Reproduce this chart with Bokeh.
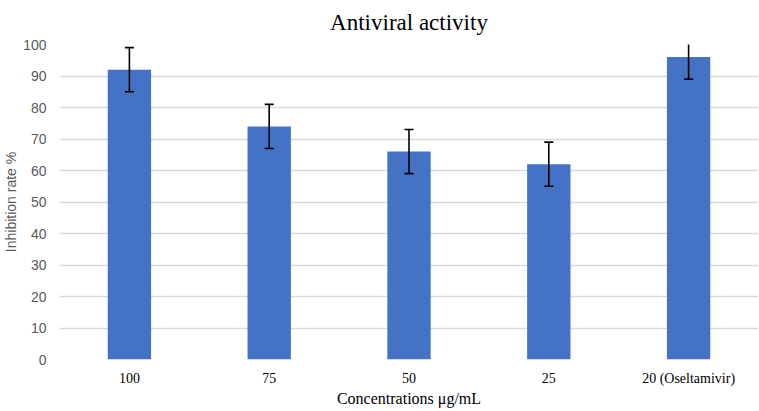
from bokeh.plotting import figure
from bokeh.models import ColumnDataSource, FactorRange, Range1d, Whisker, TeeHead, Title, SingleIntervalTicker
from bokeh.embed import file_html
from bokeh.resources import INLINE

categories = ["100", "75", "50", "25", "20 (Oseltamivir)"]
values = [92, 74, 66, 62, 96]
errors = [7, 7, 7, 7, 7]

src = ColumnDataSource(dict(
    cat=categories,
    val=values,
    lo=[v - e for v, e in zip(values, errors)],
    hi=[v + e for v, e in zip(values, errors)],
))

p = figure(width=759, height=411, x_range=FactorRange(*categories), y_range=Range1d(0, 100),
           output_backend="svg", toolbar_location=None,
           min_border_left=58, min_border_right=1, min_border_top=44, min_border_bottom=52)
p.outline_line_color = None

p.vbar(x="cat", top="val", width=0.31, source=src, fill_color="#4472C4", line_color=None)

w = Whisker(base="cat", lower="lo", upper="hi", source=src, line_color="black", line_width=1.6,
            level="overlay",
            upper_head=TeeHead(size=9, line_color="black", line_width=1.6),
            lower_head=TeeHead(size=9, line_color="black", line_width=1.6))
p.add_layout(w)

t = Title(text="Antiviral activity", align="center", text_font="Liberation Serif",
          text_font_size="23px", text_font_style="normal", text_color="#000000",
          offset=0, standoff=16, vertical_align="top")
p.add_layout(t, "above")

p.xgrid.grid_line_color = None
p.ygrid.grid_line_color = "#d9d9d9"
p.ygrid.grid_line_width = 1.3
p.yaxis.ticker = SingleIntervalTicker(interval=10)

p.yaxis.axis_line_color = None
p.yaxis.major_tick_line_color = None
p.yaxis.minor_tick_line_color = None
p.yaxis.major_tick_out = 0
p.yaxis.major_tick_in = 0
p.yaxis.major_label_text_font = "Liberation Sans"
p.yaxis.major_label_text_font_size = "14px"
p.yaxis.major_label_text_color = "#595959"
p.yaxis.major_label_standoff = 9
p.yaxis.axis_label = "Inhibition rate %"
p.yaxis.axis_label_text_font = "Liberation Sans"
p.yaxis.axis_label_text_font_size = "14px"
p.yaxis.axis_label_text_font_style = "normal"
p.yaxis.axis_label_text_color = "#595959"
p.yaxis.axis_label_standoff = 1

p.xaxis.axis_line_color = None
p.xaxis.major_tick_line_color = None
p.xaxis.minor_tick_line_color = None
p.xaxis.major_tick_out = 0
p.xaxis.major_tick_in = 0
p.xaxis.major_label_text_font = "Liberation Serif"
p.xaxis.major_label_text_font_size = "14px"
p.xaxis.major_label_text_color = "#000000"
p.xaxis.major_label_standoff = 11
p.xaxis.axis_label = "Concentrations μg/mL"
p.xaxis.axis_label_text_font = "Liberation Serif"
p.xaxis.axis_label_text_font_size = "16px"
p.xaxis.axis_label_text_font_style = "normal"
p.xaxis.axis_label_text_color = "#000000"
p.xaxis.axis_label_standoff = 1

open("out.html", "w").write(file_html(p, INLINE))
